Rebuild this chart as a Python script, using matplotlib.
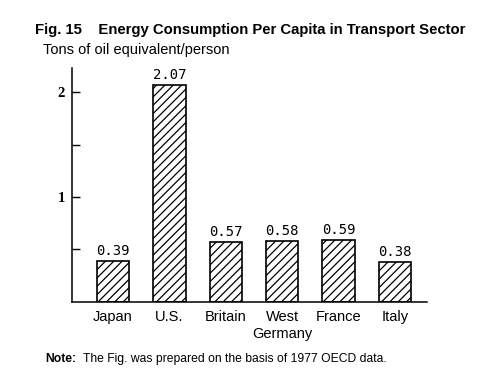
import numpy as np
import matplotlib.pyplot as plt

countries = ['Japan', 'U.S.', 'Britain', 'West\nGermany', 'France', 'Italy']
values = [0.39, 2.07, 0.57, 0.58, 0.59, 0.38]
value_labels = ['0.39', '2.07', '0.57', '0.58', '0.59', '0.38']

plt.rcParams['hatch.linewidth'] = 0.9

fig = plt.figure(figsize=(5, 3.87), dpi=100)
ax = fig.add_axes([0.144, 0.22, 0.71, 0.604])

x = np.arange(len(countries))
ax.bar(x, values, width=0.57, color='white', edgecolor='black',
       linewidth=1.2, hatch='////', zorder=2)

for xi, v, lab in zip(x, values, value_labels):
    ax.text(xi, v + 0.03, lab, ha='center', va='bottom',
            family='DejaVu Sans Mono', fontsize=10)

ax.set_xlim(-0.73, 5.57)
ax.set_ylim(0, 2.23)

ax.spines['top'].set_visible(False)
ax.spines['right'].set_visible(False)
ax.spines['left'].set_linewidth(1.1)
ax.spines['bottom'].set_linewidth(1.1)

ax.set_yticks([0.5, 1, 1.5, 2])
ax.set_yticklabels(['', '1', '', '2'], family='Liberation Serif',
                   fontweight='bold', fontsize=10.5)
ax.tick_params(axis='y', direction='in', length=6, width=1, pad=5)

ax.set_xticks(x)
ax.set_xticklabels(countries, family='Liberation Sans', fontsize=10.5,
                   va='top', linespacing=1.3)
ax.tick_params(axis='x', length=0, pad=6)

fig.text(0.07, 0.922, 'Fig. 15    Energy Consumption Per Capita in Transport Sector',
         family='Liberation Sans', fontweight='bold', fontsize=10.75,
         ha='left', va='center')
fig.text(0.086, 0.870, 'Tons of oil equivalent/person',
         family='Liberation Sans', fontsize=10.5, ha='left', va='center')

fig.text(0.09, 0.073, 'Note:', family='Liberation Sans', fontweight='bold',
         fontsize=8.7, ha='left', va='center')
fig.text(0.166, 0.073, 'The Fig. was prepared on the basis of 1977 OECD data.',
         family='Liberation Sans', fontsize=8.7, ha='left', va='center')

fig.savefig('out.png', dpi=100)
